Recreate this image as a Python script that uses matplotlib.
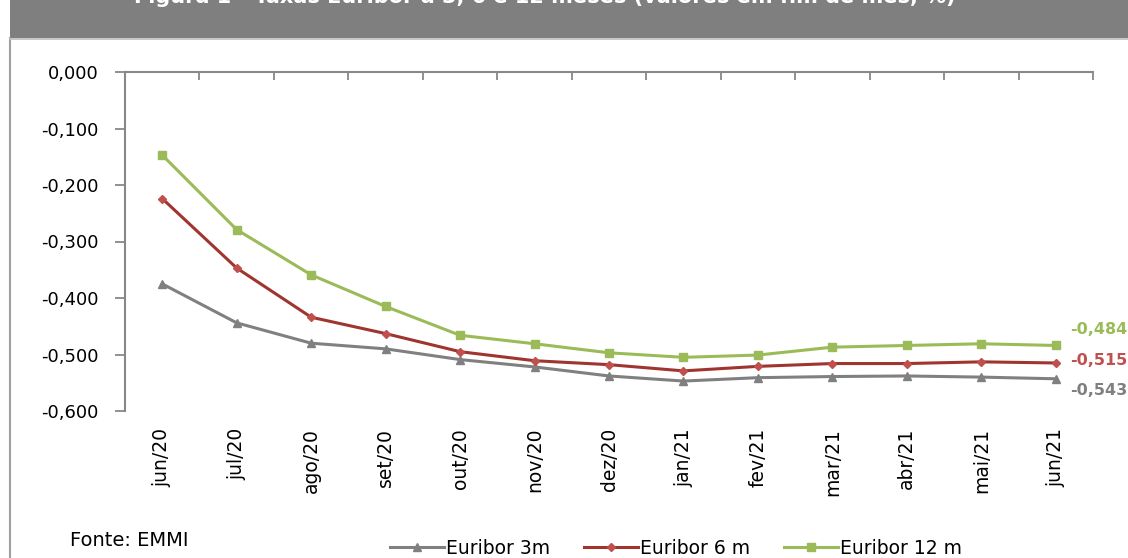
import matplotlib
matplotlib.use("Agg")
import matplotlib.pyplot as plt
from matplotlib.patches import Rectangle
from matplotlib.lines import Line2D
from matplotlib.ticker import FuncFormatter, FixedLocator

months = ["jun/20", "jul/20", "ago/20", "set/20", "out/20", "nov/20", "dez/20",
          "jan/21", "fev/21", "mar/21", "abr/21", "mai/21", "jun/21"]
euribor_3m = [-0.375, -0.444, -0.480, -0.490, -0.509, -0.522, -0.538,
              -0.547, -0.541, -0.539, -0.538, -0.540, -0.543]
euribor_6m = [-0.224, -0.347, -0.434, -0.463, -0.495, -0.511, -0.518,
              -0.529, -0.521, -0.516, -0.516, -0.513, -0.515]
euribor_12m = [-0.147, -0.279, -0.359, -0.415, -0.466, -0.481, -0.497,
               -0.505, -0.501, -0.487, -0.484, -0.481, -0.484]
series_names = ["Euribor 3m", "Euribor 6 m", "Euribor 12 m"]
end_labels = ["-0,543", "-0,515", "-0,484"]
title = "Figura 1 - Taxas Euribor a 3, 6 e 12 meses (valores em fim de mês, %)"
source = "Fonte: EMMI"

c_gray = "#808080"
c_red = "#A03530"
c_red_lbl = "#C0504D"
c_green = "#9BBB59"

W, H = 1128, 558
fig = plt.figure(figsize=(W / 100, H / 100), dpi=100)
fig.patch.set_facecolor("white")

# header band and frame
fig.add_artist(Rectangle((10 / W, 1 - 38 / H), 1 - 10 / W, 38 / H,
                         transform=fig.transFigure, facecolor="#7F7F7F",
                         edgecolor="none", zorder=0))
fig.add_artist(Line2D([10 / W, 10 / W], [0, 1 - 38 / H], transform=fig.transFigure,
                      color="#A0A0A0", lw=1.5))
fig.add_artist(Line2D([10 / W, 1], [1 - 39 / H, 1 - 39 / H], transform=fig.transFigure,
                      color="#BFBFBF", lw=1.2))
fig.text(545 / W, 1 - 3 / H, title, color="white", fontsize=15, fontweight="bold",
         ha="center", va="baseline")

ax = fig.add_axes([125 / W, 1 - 411 / H, 968 / W, 339 / H])
x = list(range(len(months)))
l3, = ax.plot(x, euribor_3m, color=c_gray, lw=2.2, marker="^", ms=6, clip_on=False)
l6, = ax.plot(x, euribor_6m, color=c_red, lw=2.2, marker="D", ms=4.5,
              markerfacecolor="#C0504D", markeredgecolor="#C0504D", clip_on=False)
l12, = ax.plot(x, euribor_12m, color=c_green, lw=2.2, marker="s", ms=6, clip_on=False)

ax.set_xlim(-0.5, len(months) - 0.5)
ax.set_ylim(-0.6, 0.0)
ax.set_yticks([0, -0.1, -0.2, -0.3, -0.4, -0.5, -0.6])
ax.yaxis.set_major_formatter(FuncFormatter(
    lambda v, p: f"{v:.3f}".replace(".", ",").replace("-0,000", "0,000")))
ax.tick_params(axis="y", direction="out", length=7, width=1.3, color="#888888",
               labelsize=13, pad=12)

for s in ["bottom", "right"]:
    ax.spines[s].set_visible(False)
for s in ["top", "left"]:
    ax.spines[s].set_color("#888888")
    ax.spines[s].set_linewidth(1.5)

ax.set_xticks([])
ax.xaxis.set_minor_locator(FixedLocator([i - 0.5 for i in range(len(months) + 1)]))
ax.xaxis.set_ticks_position("top")
ax.tick_params(axis="x", which="minor", top=True, bottom=False, direction="in",
               length=6, width=1.3, color="#888888", labeltop=False)

for i, m in enumerate(months):
    ax.annotate(m, xy=(i, 0), xycoords=("data", "axes fraction"),
                xytext=(0, -17), textcoords="offset pixels",
                rotation=90, ha="center", va="top", fontsize=13.5)

# end labels
last = len(months) - 1
for val, txt, col, dy in zip([euribor_12m[-1], euribor_6m[-1], euribor_3m[-1]],
                             [end_labels[2], end_labels[1], end_labels[0]],
                             [c_green, c_red_lbl, c_gray], [16, 2, -12]):
    ax.annotate(txt, xy=(last, val), xytext=(14, dy), textcoords="offset pixels",
                color=col, fontsize=11.5, fontweight="bold",
                va="center", ha="left", annotation_clip=False)

fig.text(70 / W, 1 - 540 / H, source, fontsize=14, ha="left", va="center")

leg = fig.legend([l3, l6, l12], series_names, loc="center",
                 bbox_to_anchor=(676 / W, 1 - 548 / H), ncol=3, frameon=False,
                 fontsize=13.5, handlelength=2.9, handletextpad=0.1,
                 columnspacing=1.8, borderpad=0, markerscale=0.9)

fig.savefig("out.png", dpi=100)
